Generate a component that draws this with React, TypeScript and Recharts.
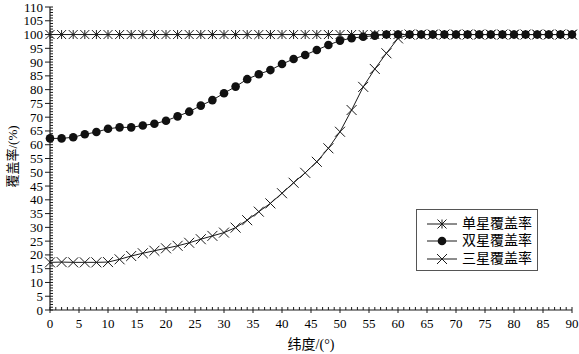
import { Legend, Line, LineChart, XAxis, YAxis } from "recharts";

// latitude (degrees) sampled every 2°
const latitude = [
  0, 2, 4, 6, 8, 10, 12, 14, 16, 18, 20, 22, 24, 26, 28, 30, 32, 34, 36, 38, 40, 42, 44,
  46, 48, 50, 52, 54, 56, 58, 60, 62, 64, 66, 68, 70, 72, 74, 76, 78, 80, 82, 84, 86, 88, 90,
];

const singleCoverage = [
  100, 100, 100, 100, 100, 100, 100, 100, 100, 100, 100, 100, 100, 100, 100, 100, 100, 100,
  100, 100, 100, 100, 100, 100, 100, 100, 100, 100, 100, 100, 100, 100, 100, 100, 100, 100,
  100, 100, 100, 100, 100, 100, 100, 100, 100, 100,
];

const doubleCoverage = [
  62.3, 62.3, 62.7, 63.8, 64.6, 65.8, 66.3, 66.3, 67.0, 67.6, 68.7, 70.3, 72.0, 74.2, 76.2,
  78.7, 81.1, 83.8, 85.6, 87.1, 89.3, 91.1, 92.6, 94.4, 96.2, 97.8, 98.7, 99.2, 99.6, 100,
  100, 100, 100, 100, 100, 100, 100, 100, 100, 100, 100, 100, 100, 100, 100, 100,
];

const tripleCoverage = [
  17.3, 17.4, 17.3, 17.3, 17.3, 17.4, 18.4, 19.6, 20.6, 21.5, 22.4, 23.3, 24.4, 25.7, 26.9,
  28.1, 29.9, 32.6, 35.7, 38.7, 42.4, 46.2, 49.8, 53.8, 58.7, 64.7, 72.6, 81.0, 87.5, 93.2,
  98.6, 100, 100, 100, 100, 100, 100, 100, 100, 100, 100, 100, 100, 100, 100, 100,
];

const seriesNames = ["单星覆盖率", "双星覆盖率", "三星覆盖率"];
const xTickLabels = [0, 5, 10, 15, 20, 25, 30, 35, 40, 45, 50, 55, 60, 65, 70, 75, 80, 85, 90];
const yTickLabels = [0, 5, 10, 15, 20, 25, 30, 35, 40, 45, 50, 55, 60, 65, 70, 75, 80, 85, 90, 95, 100, 105, 110];

const data = latitude.map((lat, i) => ({
  lat,
  single: singleCoverage[i],
  double: doubleCoverage[i],
  triple: tripleCoverage[i],
}));

// minor ticks every 1 unit between the labelled ones
const xMinor = Array.from({ length: xTickLabels[xTickLabels.length - 1] + 1 }, (_, i) => i);
const yMinor = Array.from({ length: yTickLabels[yTickLabels.length - 1] + 1 }, (_, i) => i);

const INK = "#1a1a1a";
const serif = "'Liberation Serif', 'Noto Sans CJK SC', serif";

function StarDot(props: any) {
  const { cx, cy } = props;
  if (cx == null || cy == null) return null;
  const r = 4.5;
  return (
    <g stroke={INK} strokeWidth={1}>
      <line x1={cx - r} y1={cy - r} x2={cx + r} y2={cy + r} />
      <line x1={cx - r} y1={cy + r} x2={cx + r} y2={cy - r} />
      <line x1={cx} y1={cy - r} x2={cx} y2={cy + r} />
    </g>
  );
}

function CircleDot(props: any) {
  const { cx, cy } = props;
  if (cx == null || cy == null) return null;
  return <circle cx={cx} cy={cy} r={4.3} fill="#111" stroke="none" />;
}

function CrossDot(props: any) {
  const { cx, cy } = props;
  if (cx == null || cy == null) return null;
  const r = 5;
  return (
    <g stroke={INK} strokeWidth={1}>
      <line x1={cx - r} y1={cy - r} x2={cx + r} y2={cy + r} />
      <line x1={cx - r} y1={cy + r} x2={cx + r} y2={cy - r} />
    </g>
  );
}

function XTick({ x, y, payload }: any) {
  const v = payload.value;
  const major = xTickLabels.includes(v);
  return (
    <g>
      <line x1={x} x2={x} y1={y - 3} y2={major ? y + 3 : y} stroke={INK} />
      {major && (
        <text x={x} y={y + 18} textAnchor="middle" fontFamily={serif} fontSize={13} fill="#000">
          {v}
        </text>
      )}
    </g>
  );
}

function YTick({ x, y, payload }: any) {
  const v = payload.value;
  const major = yTickLabels.includes(v);
  return (
    <g>
      <line x1={major ? x - 5 : x} x2={x + 3} y1={y} y2={y} stroke={INK} />
      {major && (
        <text x={x - 7} y={y + 4.5} textAnchor="end" fontFamily={serif} fontSize={13} fill="#000">
          {v}
        </text>
      )}
    </g>
  );
}

const legendIcons = [StarDot, CircleDot, CrossDot];

function CoverageLegend() {
  return (
    <div
      style={{
        width: 122,
        height: 62,
        boxSizing: "border-box",
        border: "1px solid #555",
        background: "#fff",
        paddingTop: 5,
        paddingLeft: 10,
      }}
    >
      {seriesNames.map((name, i) => {
        const Icon = legendIcons[i];
        return (
          <div key={name} style={{ display: "flex", alignItems: "center", height: 17.5 }}>
            <svg width={30} height={14} style={{ display: "block" }}>
              <line x1={0} x2={30} y1={7} y2={7} stroke={INK} strokeWidth={1} />
              <Icon cx={15} cy={7} />
            </svg>
            <span
              style={{
                marginLeft: 5,
                fontFamily: serif,
                fontSize: 14,
                lineHeight: "14px",
                color: "#000",
              }}
            >
              {name}
            </span>
          </div>
        );
      })}
    </div>
  );
}

export default function App() {
  return (
    <div style={{ position: "absolute", left: 0, top: 0, width: 579, height: 354, background: "#fff" }}>
      <LineChart width={579} height={354} data={data} margin={{ top: 7, right: 7, bottom: 0, left: 0 }}>
        <XAxis
          dataKey="lat"
          type="number"
          domain={[0, 90]}
          ticks={xMinor}
          interval={0}
          tick={<XTick />}
          tickLine={false}
          tickSize={0}
          tickMargin={0}
          height={44}
          axisLine={{ stroke: INK, strokeWidth: 1.2 }}
          label={{
            value: "纬度/(°)",
            position: "insideBottom",
            offset: 5,
            style: { fontFamily: serif, fontSize: 14, fill: "#000" },
          }}
        />
        <XAxis
          xAxisId="top"
          orientation="top"
          type="number"
          domain={[0, 90]}
          height={0}
          tick={false}
          tickLine={false}
          axisLine={{ stroke: "#777", strokeWidth: 2 }}
        />
        <YAxis
          type="number"
          domain={[0, 110]}
          ticks={yMinor}
          interval={0}
          tick={<YTick />}
          tickLine={false}
          tickSize={0}
          tickMargin={0}
          width={50}
          axisLine={{ stroke: INK, strokeWidth: 1.2 }}
          label={{
            content: (p: any) => {
              const vb = p.viewBox;
              const cx = vb.x + 12;
              const cy = vb.y + vb.height / 2 - 2;
              return (
                <text
                  x={cx}
                  y={cy}
                  transform={`rotate(-90 ${cx} ${cy})`}
                  textAnchor="middle"
                  dominantBaseline="central"
                  fontFamily={serif}
                  fontSize={13}
                  fill="#000"
                >
                  覆盖率/(%)
                </text>
              );
            },
          }}
        />
        <YAxis
          yAxisId="right"
          orientation="right"
          type="number"
          domain={[0, 110]}
          width={0}
          tick={false}
          tickLine={false}
          axisLine={{ stroke: "#444", strokeWidth: 1 }}
        />
        <Legend
          layout="vertical"
          align="center"
          verticalAlign="middle"
          content={<CoverageLegend />}
          wrapperStyle={{ position: "absolute", left: 416, top: 209, width: 122, height: 62 }}
        />
        <Line
          dataKey="single"
          name={seriesNames[0]}
          type="linear"
          stroke={INK}
          strokeWidth={1}
          dot={(p: any) => <StarDot key={`s-${p.index}`} {...p} />}
          activeDot={false}
          isAnimationActive={false}
        />
        <Line
          dataKey="triple"
          name={seriesNames[2]}
          type="linear"
          stroke={INK}
          strokeWidth={1}
          dot={(p: any) => <CrossDot key={`t-${p.index}`} {...p} />}
          activeDot={false}
          isAnimationActive={false}
        />
        <Line
          dataKey="double"
          name={seriesNames[1]}
          type="linear"
          stroke={INK}
          strokeWidth={1}
          dot={(p: any) => <CircleDot key={`d-${p.index}`} {...p} />}
          activeDot={false}
          isAnimationActive={false}
        />
      </LineChart>
    </div>
  );
}
